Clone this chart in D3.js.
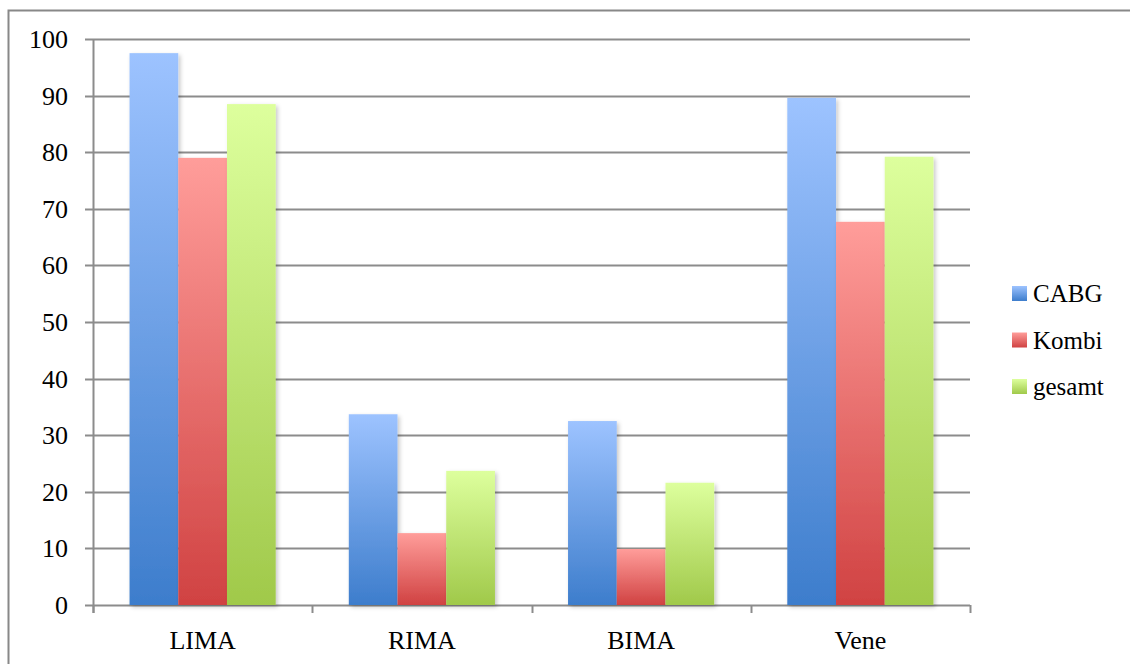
<!DOCTYPE html>
<html lang="de">
<head>
<meta charset="utf-8">
<title>CABG / Kombi / gesamt</title>
<script src="https://cdn.jsdelivr.net/npm/d3@7"></script>
<style>
  body { margin: 0; background: #fff; }
  svg { display: block; font-family: "Liberation Serif", "DejaVu Serif", serif; }
</style>
</head>
<body>
<script>
// data
var categories = ["LIMA", "RIMA", "BIMA", "Vene"];
var seriesNames = ["CABG", "Kombi", "gesamt"];
var cabg = [97.5, 33.7, 32.5, 89.6];
var kombi = [79.0, 12.7, 9.9, 67.7];
var gesamt = [88.5, 23.7, 21.6, 79.2];
var yTicks = [0, 10, 20, 30, 40, 50, 60, 70, 80, 90, 100];

var values = [cabg, kombi, gesamt];
// top / bottom colour of each gradient
var colors = [["#9dc3ff", "#3d7dcc"], ["#ff9d9a", "#d04242"], ["#ddff9d", "#a0c94a"]];

var w = 1130, h = 664;
var plotLeft = 93, plotRight = 970, plotTop = 39, plotBottom = 605;

var svg = d3.select("body").append("svg")
  .attr("width", w)
  .attr("height", h);

var defs = svg.append("defs");
colors.forEach(function(c, i) {
  var g = defs.append("linearGradient")
    .attr("id", "grad" + i)
    .attr("x1", 0).attr("y1", 0).attr("x2", 0).attr("y2", 1);
  g.append("stop").attr("offset", "0%").attr("stop-color", c[0]);
  g.append("stop").attr("offset", "100%").attr("stop-color", c[1]);
});
var shadow = defs.append("filter").attr("id", "shadow")
  .attr("x", "-20%").attr("y", "-5%").attr("width", "150%").attr("height", "115%");
shadow.append("feDropShadow")
  .attr("dx", 2).attr("dy", 2).attr("stdDeviation", 2)
  .attr("flood-color", "#000").attr("flood-opacity", 0.22);

// outer frame, only top and left edges show
svg.append("path")
  .attr("d", "M8.5," + h + "V10.5H" + w)
  .attr("fill", "none")
  .attr("stroke", "#888")
  .attr("stroke-width", 2);

var x0 = d3.scaleBand().domain(categories).range([plotLeft, plotRight]);
// gap width 150% of a bar -> 0.75 bar on each side
var x1 = d3.scaleBand().domain(d3.range(seriesNames.length))
  .range([0, x0.bandwidth()]).paddingInner(0).paddingOuter(0.75);
var y = d3.scaleLinear().domain([0, 100]).range([plotBottom, plotTop]);

// gridlines
svg.append("g")
  .selectAll("line")
  .data(yTicks)
  .enter()
  .append("line")
  .attr("x1", plotLeft - 8)
  .attr("x2", plotRight)
  .attr("y1", function(d) { return Math.round(y(d)) + 0.5; })
  .attr("y2", function(d) { return Math.round(y(d)) + 0.5; })
  .attr("stroke", "#8c8c8c")
  .attr("stroke-width", 2);

// y axis line
svg.append("line")
  .attr("x1", plotLeft + 0.5).attr("x2", plotLeft + 0.5)
  .attr("y1", plotTop).attr("y2", plotBottom + 8)
  .attr("stroke", "#8c8c8c").attr("stroke-width", 2);

// x ticks at category boundaries
var bounds = categories.map(function(c) { return x0(c); }).concat([plotRight]);
svg.append("g")
  .selectAll("line")
  .data(bounds)
  .enter()
  .append("line")
  .attr("x1", function(d) { return Math.round(d) + 0.5; })
  .attr("x2", function(d) { return Math.round(d) + 0.5; })
  .attr("y1", plotBottom)
  .attr("y2", plotBottom + 8)
  .attr("stroke", "#8c8c8c").attr("stroke-width", 2);

// y labels
svg.append("g")
  .selectAll("text")
  .data(yTicks)
  .enter()
  .append("text")
  .attr("x", 68)
  .attr("y", function(d) { return y(d) + 9; })
  .attr("text-anchor", "end")
  .attr("font-size", "26px")
  .attr("fill", "#000")
  .text(function(d) { return d; });

// x labels
svg.append("g")
  .selectAll("text")
  .data(categories)
  .enter()
  .append("text")
  .attr("x", function(d) { return x0(d) + x0.bandwidth() / 2; })
  .attr("y", 649)
  .attr("text-anchor", "middle")
  .attr("font-size", "26px")
  .attr("fill", "#000")
  .text(function(d) { return d; });

// bars
var groups = svg.append("g")
  .selectAll("g")
  .data(categories)
  .enter()
  .append("g")
  .attr("transform", function(d) { return "translate(" + x0(d) + ",0)"; });

groups.selectAll("rect")
  .data(function(d, ci) {
    return values.map(function(s, si) { return { s: si, v: s[ci] }; });
  })
  .enter()
  .append("rect")
  .attr("x", function(d) { return x1(d.s); })
  .attr("y", function(d) { return y(d.v); })
  .attr("width", x1.bandwidth())
  .attr("height", function(d) { return y(0) - y(d.v); })
  .attr("fill", function(d) { return "url(#grad" + d.s + ")"; })
  .attr("filter", "url(#shadow)");

// legend
var legend = svg.append("g")
  .selectAll("g")
  .data(seriesNames)
  .enter()
  .append("g")
  .attr("transform", function(d, i) { return "translate(1012," + (286 + i * 46.5) + ")"; });

legend.append("rect")
  .attr("width", 15)
  .attr("height", 15)
  .attr("fill", function(d, i) { return "url(#grad" + i + ")"; });

legend.append("text")
  .attr("x", 21)
  .attr("y", 16)
  .attr("font-size", "25px")
  .attr("fill", "#000")
  .text(function(d) { return d; });
</script>
</body>
</html>
